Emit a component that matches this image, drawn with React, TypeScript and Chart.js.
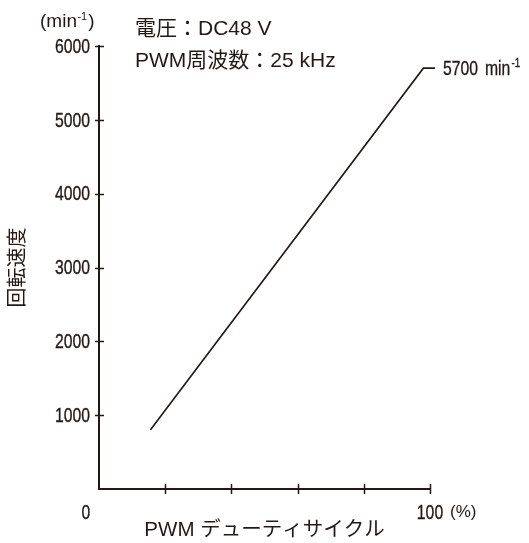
import React, { useEffect, useRef } from "react";
import { Chart, registerables } from "chart.js";

Chart.register(...registerables);

const dutyPercent = [15.5, 98, 101.5];
const speedRpm = [800, 5700, 5700];
const yTickValues = [1000, 2000, 3000, 4000, 5000, 6000];
const xTickValues = [20, 40, 60, 80, 100];
const xLabelValues = [0, 100];
const infoLines = ["電圧：DC48 V", "PWM周波数：25 kHz"];
const endLabelValue = "5700";
const endLabelUnit = "min";
const xTitle = "PWM デューティサイクル";
const yTitle = "回転速度";

const INK = "#231815";
const SANS = '"Liberation Sans", "Noto Sans CJK JP", sans-serif';
const CJK = '"Liberation Sans", "Noto Sans CJK JP", "Noto Sans", sans-serif';
const NARROW_X = 0.75;

function narrowText(ctx: any, text: string, x: number, y: number, align: string, size: number) {
  ctx.save();
  ctx.font = `${size}px ${SANS}`;
  ctx.textAlign = align;
  ctx.textBaseline = "middle";
  ctx.translate(x, y);
  ctx.scale(NARROW_X, 1);
  ctx.fillText(text, 0, 0);
  ctx.strokeStyle = INK;
  ctx.lineWidth = 0.35;
  ctx.strokeText(text, 0, 0);
  const w = ctx.measureText(text).width * NARROW_X;
  ctx.restore();
  return w;
}

const decorPlugin = {
  id: "decor",
  afterDraw(chart: any) {
    const ctx = chart.ctx;
    const xs = chart.scales.x;
    const ys = chart.scales.y;
    const area = chart.chartArea;
    ctx.save();
    ctx.strokeStyle = INK;
    ctx.lineWidth = 1.5;
    // y tick crosses
    yTickValues.forEach((v) => {
      const y = Math.round(ys.getPixelForValue(v)) + 0.5;
      ctx.beginPath();
      ctx.moveTo(area.left - 4, y);
      ctx.lineTo(area.left + 5, y);
      ctx.stroke();
    });
    // x tick crosses
    xTickValues.forEach((v) => {
      const x = Math.round(xs.getPixelForValue(v)) + 0.5;
      ctx.beginPath();
      ctx.moveTo(x, area.bottom - 5);
      ctx.lineTo(x, area.bottom + 5);
      ctx.stroke();
    });

    ctx.fillStyle = INK;
    // y tick labels (condensed)
    yTickValues.forEach((v) => {
      narrowText(ctx, String(v), area.left - 9, ys.getPixelForValue(v) + 1, "right", 21);
    });
    // x labels
    narrowText(ctx, String(xLabelValues[0]), xs.getPixelForValue(xLabelValues[0]) - 13, 513, "center", 21);
    narrowText(ctx, String(xLabelValues[1]), xs.getPixelForValue(xLabelValues[1]), 513, "center", 21);
    ctx.textBaseline = "middle";
    ctx.font = `17px ${SANS}`;
    ctx.textAlign = "left";
    ctx.fillText("(%)", xs.getPixelForValue(100) + 20, 512);

    // unit label (min-1)
    ctx.font = `19px ${SANS}`;
    let x = 40;
    const uy = 22;
    ctx.fillText("(min", x, uy);
    x += ctx.measureText("(min").width + 0.5;
    ctx.font = `11px ${SANS}`;
    ctx.fillText("-1", x, uy - 5);
    x += ctx.measureText("-1").width + 1;
    ctx.font = `19px ${SANS}`;
    ctx.fillText(")", x, uy);

    // info lines
    ctx.font = `21px ${CJK}`;
    ctx.fillText(infoLines[0], 135, 29);
    ctx.fillText(infoLines[1], 135, 61);

    // end label
    const ex = xs.getPixelForValue(dutyPercent[2]) + 8;
    const ey = ys.getPixelForValue(speedRpm[2]) + 1;
    const w1 = narrowText(ctx, endLabelValue, ex, ey, "left", 21);
    const ux = ex + w1 + 7;
    const w2 = narrowText(ctx, endLabelUnit, ux, ey, "left", 21);
    narrowText(ctx, "-1", ux + w2 + 1, ey - 6, "left", 13);
    ctx.restore();
  },
};

export default function App() {
  const ref = useRef<HTMLCanvasElement | null>(null);
  useEffect(() => {
    document.body.style.margin = "0";
    const canvas = ref.current;
    if (!canvas) return;
    const chart = new Chart(canvas, {
      type: "line",
      data: {
        datasets: [
          {
            data: dutyPercent.map((d, i) => ({ x: d, y: speedRpm[i] })),
            borderColor: INK,
            borderWidth: 1.6,
            pointRadius: 0,
            tension: 0,
            fill: false,
            clip: false as any,
          },
        ],
      },
      options: {
        animation: false,
        responsive: false,
        devicePixelRatio: 1,
        layout: { padding: { top: 46, right: 99, left: 0, bottom: 0 } },
        plugins: {
          legend: { display: false },
          tooltip: { enabled: false },
        },
        scales: {
          x: {
            type: "linear",
            min: 0,
            max: 100,
            grid: { display: true, drawOnChartArea: false, drawTicks: false },
            border: { display: true, color: INK, width: 2 },
            ticks: { display: false },
            title: {
              display: true,
              text: xTitle,
              color: INK,
              font: { family: CJK, size: 20.5, lineHeight: 1.2 },
              padding: { top: 0, bottom: 0 },
            },
            afterFit(scale: any) {
              scale.height = 54;
            },
          },
          y: {
            type: "linear",
            min: 0,
            max: 6000,
            grid: { display: true, drawOnChartArea: false, drawTicks: false },
            border: { display: true, color: INK, width: 2 },
            ticks: { display: false, stepSize: 1000 },
            title: {
              display: true,
              text: yTitle,
              color: INK,
              font: { family: CJK, size: 20, lineHeight: 1.2 },
              padding: { top: 6, bottom: 0 },
            },
            afterFit(scale: any) {
              scale.width = 99;
            },
          },
        },
      },
      plugins: [decorPlugin],
    });
    return () => chart.destroy();
  }, []);
  return (
    <div style={{ width: 529, height: 543 }}>
      <canvas ref={ref} width={529} height={543} style={{ display: "block" }} />
    </div>
  );
}
